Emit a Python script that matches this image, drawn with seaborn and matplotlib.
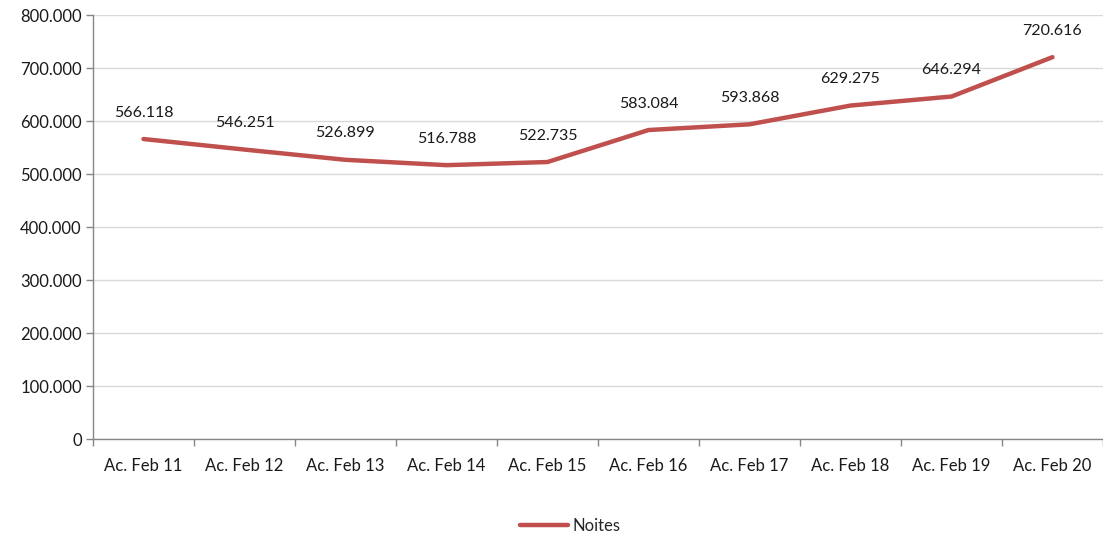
import pandas as pd
import numpy as np
import matplotlib.pyplot as plt
import seaborn as sns
from matplotlib.ticker import FuncFormatter, FixedLocator

# Data
categories = ['Ac. Feb 11', 'Ac. Feb 12', 'Ac. Feb 13', 'Ac. Feb 14', 'Ac. Feb 15',
              'Ac. Feb 16', 'Ac. Feb 17', 'Ac. Feb 18', 'Ac. Feb 19', 'Ac. Feb 20']
noites = [566118, 546251, 526899, 516788, 522735, 583084, 593868, 629275, 646294, 720616]

df = pd.DataFrame({'periodo': categories, 'Noites': noites})
df['x'] = np.arange(len(df))

sns.set_style('white')
plt.rcParams['font.family'] = ['Lato', 'DejaVu Sans']

fig = plt.figure(figsize=(11.03, 5.39), dpi=100)
ax = fig.add_axes([0.0843, 0.1855, 0.9157, 0.7865])

sns.lineplot(data=df, x='x', y='Noites', ax=ax, color='#C0504D', linewidth=3.2,
             label='Noites', solid_capstyle='round', solid_joinstyle='round')

def pt(v):
    return f'{v:,.0f}'.replace(',', '.')

# Data labels
for xi, v in zip(df['x'], df['Noites']):
    ax.annotate(pt(v), (xi, v), xytext=(0, 14), textcoords='offset points',
                ha='center', va='bottom', fontsize=11.5, color='#1a1a1a')

ax.set_xlim(-0.5, len(categories) - 0.5)
ax.set_ylim(0, 800000)
ax.set_yticks(np.arange(0, 800001, 100000))
ax.yaxis.set_major_formatter(FuncFormatter(lambda v, p: pt(v)))
ax.set_xticks(df['x'])
ax.set_xticklabels(categories)
ax.xaxis.set_minor_locator(FixedLocator(np.arange(-0.5, len(categories), 1.0)))

ax.grid(axis='y', color='#D9D9D9', linewidth=1)
ax.set_axisbelow(True)
ax.tick_params(axis='x', which='major', length=0, pad=14, labelsize=12, colors='#1a1a1a')
ax.tick_params(axis='x', which='minor', length=5, color='#868686', width=1, direction='out')
ax.tick_params(axis='y', length=5, color='#868686', width=1, direction='out',
               labelsize=12, colors='#1a1a1a', pad=3)
ax.tick_params(axis='x', which='minor', bottom=True)
ax.tick_params(axis='y', left=True)

for s in ['top', 'right']:
    ax.spines[s].set_visible(False)
for s in ['left', 'bottom']:
    ax.spines[s].set_color('#868686')
    ax.spines[s].set_linewidth(1)

ax.set_xlabel('')
ax.set_ylabel('')

leg = ax.legend(loc='center', bbox_to_anchor=(0.4725, -0.205), frameon=False,
                fontsize=12, handlelength=2.9, handletextpad=0.3)

fig.savefig('out.png', dpi=100)
